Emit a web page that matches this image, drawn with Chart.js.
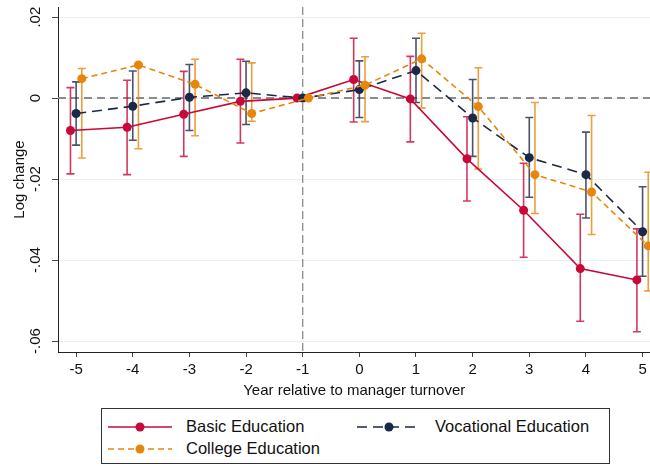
<!DOCTYPE html>
<html>
<head>
<meta charset="utf-8">
<script src="https://cdn.jsdelivr.net/npm/chart.js@4/dist/chart.umd.min.js"></script>
<style>
    body { margin: 0; background: #fff; font-family: "Liberation Sans", Arial, sans-serif; }
    #wrap { position: relative; width: 650px; height: 466px; overflow: hidden; }
    #chart-box { position: absolute; left: 0; top: 0; width: 655px; height: 400px; }
    #legend { position: absolute; left: 101px; top: 408px; width: 507px; height: 54px; border: 1px solid #333; }
    .leg-item { position: absolute; display: flex; align-items: center; font-size: 16.5px; color: #111; }
    .leg-item svg { margin-right: 14px; }
</style>
</head>
<body>
<div id="wrap">
    <div id="chart-box"><canvas id="eduChart" width="655" height="400"></canvas></div>
    <div id="legend"></div>
</div>
<script>
(function() {
    'use strict';

    const years = [-5, -4, -3, -2, -1, 0, 1, 2, 3, 4, 5];
    const yTicks = [-0.06, -0.04, -0.02, 0, 0.02];
    const yTickLabels = ['-.06', '-.04', '-.02', '0', '.02'];

    const basicEst = [-0.0080, -0.0072, -0.0040, -0.0008, 0, 0.0046, -0.0002, -0.0150, -0.0277, -0.0421, -0.0449];
    const basicLo  = [-0.0187, -0.0189, -0.0144, -0.0111, null, -0.0059, -0.0108, -0.0254, -0.0393, -0.0551, -0.0577];
    const basicHi  = [0.0026, 0.0044, 0.0066, 0.0096, null, 0.0148, 0.0103, -0.0046, -0.0161, -0.0287, -0.0323];

    const vocEst = [-0.0038, -0.0020, 0.0002, 0.0013, 0, 0.0021, 0.0068, -0.0049, -0.0147, -0.0189, -0.0330];
    const vocLo  = [-0.0116, -0.0104, -0.0080, -0.0065, null, -0.0048, -0.0011, -0.0144, -0.0245, -0.0296, -0.0440];
    const vocHi  = [0.0040, 0.0067, 0.0083, 0.0091, null, 0.0092, 0.0148, 0.0046, -0.0048, -0.0084, -0.0219];

    const colEst = [0.0048, 0.0082, 0.0034, -0.0038, 0, 0.0032, 0.0097, -0.0021, -0.0189, -0.0232, -0.0365];
    const colLo  = [-0.0148, -0.0125, -0.0093, -0.0057, null, -0.0058, -0.0024, -0.0175, -0.0285, -0.0337, -0.0476];
    const colHi  = [0.0073, 0.0086, 0.0096, 0.0087, null, 0.0102, 0.0160, 0.0075, -0.0011, -0.0043, -0.0183];

    const RED = '#c80838', NAVY = '#1b2848', ORANGE = '#e8860c';
    const FONT = '"Liberation Sans", Arial, sans-serif';

    const series = [
        { label: 'Basic Education', est: basicEst, lo: basicLo, hi: basicHi, shift: -0.1, color: RED, dash: [], order: 3 },
        { label: 'Vocational Education', est: vocEst, lo: vocLo, hi: vocHi, shift: 0, color: NAVY, dash: [10, 6], order: 2 },
        { label: 'College Education', est: colEst, lo: colLo, hi: colHi, shift: 0.1, color: ORANGE, dash: [6, 4], order: 1 }
    ];

    function hexA(hex, a) {
        const n = parseInt(hex.slice(1), 16);
        return `rgba(${n >> 16},${(n >> 8) & 255},${n & 255},${a})`;
    }

    // error bars + reference lines, drawn under the series
    const errorBars = {
        id: 'errorBars',
        beforeDatasetsDraw(chart) {
            const { ctx, chartArea: a, scales: { x, y } } = chart;
            ctx.save();
            ctx.strokeStyle = '#8c8c8c';
            ctx.lineWidth = 2;
            ctx.setLineDash([8, 5]);
            ctx.beginPath();
            ctx.moveTo(a.left, y.getPixelForValue(0));
            ctx.lineTo(a.right, y.getPixelForValue(0));
            ctx.stroke();
            ctx.lineWidth = 1.3;
            ctx.setLineDash([8, 4]);
            ctx.beginPath();
            ctx.moveTo(x.getPixelForValue(-1), a.top);
            ctx.lineTo(x.getPixelForValue(-1), a.bottom);
            ctx.stroke();
            ctx.setLineDash([]);
            ctx.lineWidth = 1.6;
            series.forEach(s => {
                ctx.strokeStyle = hexA(s.color, 0.8);
                years.forEach((yr, i) => {
                    if (s.lo[i] == null) return;
                    const px = x.getPixelForValue(yr + s.shift);
                    const p1 = y.getPixelForValue(s.lo[i]);
                    const p2 = y.getPixelForValue(s.hi[i]);
                    ctx.beginPath();
                    ctx.moveTo(px, p1); ctx.lineTo(px, p2);
                    ctx.moveTo(px - 4, p1); ctx.lineTo(px + 4, p1);
                    ctx.moveTo(px - 4, p2); ctx.lineTo(px + 4, p2);
                    ctx.stroke();
                });
            });
            ctx.restore();
        },
        afterDraw(chart) {
            // rotated y tick labels (Stata style)
            const { ctx, scales: { y } } = chart;
            ctx.save();
            ctx.fillStyle = '#111';
            ctx.font = '15px ' + FONT;
            ctx.textAlign = 'center';
            ctx.textBaseline = 'middle';
            yTicks.forEach((v, i) => {
                ctx.save();
                ctx.translate(36, y.getPixelForValue(v));
                ctx.rotate(-Math.PI / 2);
                ctx.fillText(yTickLabels[i], 0, 0);
                ctx.restore();
            });
            ctx.restore();
        }
    };

    new Chart(document.getElementById('eduChart').getContext('2d'), {
        type: 'line',
        data: {
            datasets: series.map(s => ({
                label: s.label,
                data: years.map((yr, i) => ({ x: yr + s.shift, y: s.est[i] })),
                borderColor: s.color,
                backgroundColor: s.color,
                borderWidth: 1.6,
                borderDash: s.dash,
                pointRadius: 4.5,
                pointBorderWidth: 0,
                pointBackgroundColor: s.color,
                tension: 0,
                fill: false,
                clip: false,
                order: s.order
            }))
        },
        options: {
            responsive: false,
            animation: false,
            layout: { padding: { top: 7, right: 0, left: 0, bottom: 0 } },
            plugins: { legend: { display: false }, tooltip: { enabled: false } },
            scales: {
                x: {
                    type: 'linear',
                    min: -5.32,
                    max: 5.14,
                    afterBuildTicks: sc => { sc.ticks = years.map(v => ({ value: v })); },
                    afterFit: sc => { sc.height = 48; },
                    grid: { drawOnChartArea: false, drawTicks: true, tickLength: 5, tickColor: '#444' },
                    border: { color: '#222', width: 1 },
                    ticks: { color: '#111', font: { family: FONT, size: 15 }, padding: 4, maxRotation: 0,
                             callback: v => String(v) },
                    title: { display: true, text: 'Year relative to manager turnover', color: '#111',
                             font: { family: FONT, size: 15 }, padding: { top: 1, bottom: 0 } }
                },
                y: {
                    min: -0.0627,
                    max: 0.0225,
                    afterBuildTicks: sc => { sc.ticks = yTicks.map(v => ({ value: v })); },
                    afterFit: sc => { sc.width = 58; },
                    grid: { color: '#e8eff0', lineWidth: 1, drawTicks: true, tickLength: 6, tickColor: '#444' },
                    border: { color: '#222', width: 1 },
                    ticks: { display: false },
                    title: { display: true, text: 'Log change', color: '#111',
                             font: { family: FONT, size: 15 }, padding: { top: 11, bottom: 0 } }
                }
            }
        },
        plugins: [errorBars]
    });

    // legend, laid out like the Stata one (2 columns)
    const legendPos = [
        { left: 6, top: 8 },
        { left: 255, top: 8 },
        { left: 6, top: 30 }
    ];
    const legend = document.getElementById('legend');
    series.forEach((s, i) => {
        const item = document.createElement('div');
        item.className = 'leg-item';
        item.style.left = legendPos[i].left + 'px';
        item.style.top = legendPos[i].top + 'px';
        item.innerHTML = `<svg width="64" height="14"><line x1="0" y1="7" x2="64" y2="7" stroke="${s.color}" stroke-width="1.6" stroke-dasharray="${s.dash.length ? s.dash.join(',') : 'none'}"/><circle cx="32" cy="7" r="4.5" fill="${s.color}"/></svg><span>${s.label}</span>`;
        legend.appendChild(item);
    });
})();
</script>
</body>
</html>
